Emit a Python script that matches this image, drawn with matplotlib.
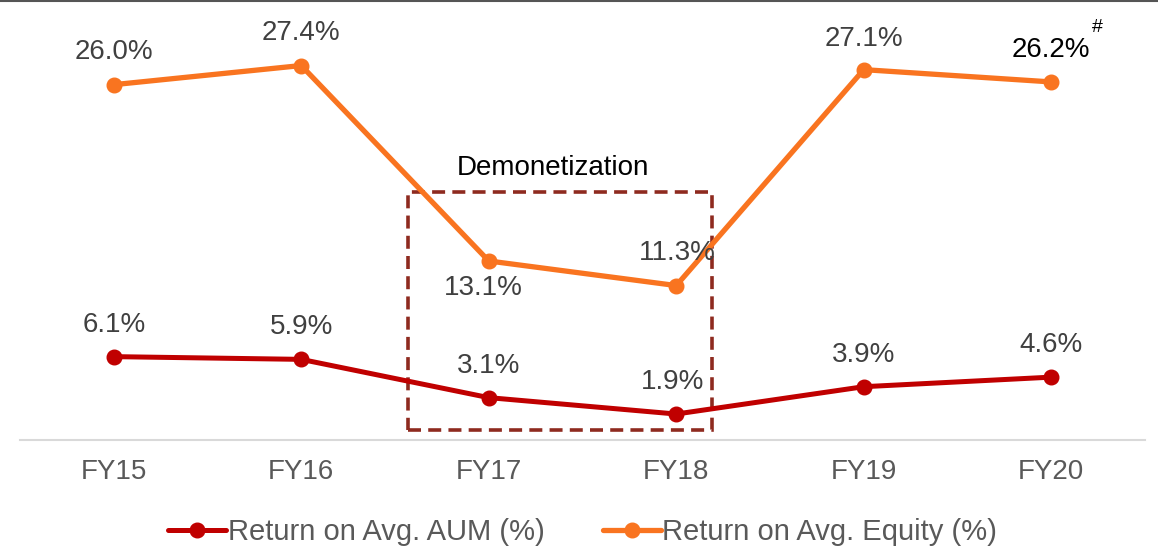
import matplotlib.pyplot as plt
from matplotlib.patches import Rectangle
from matplotlib.lines import Line2D

plt.rcParams["font.family"] = ["Liberation Sans", "DejaVu Sans"]

# ----------------------------------
# Data
# ----------------------------------

years = ["FY15", "FY16", "FY17", "FY18", "FY19", "FY20"]
roa_aum = [6.1, 5.9, 3.1, 1.9, 3.9, 4.6]
roe = [26.0, 27.4, 13.1, 11.3, 27.1, 26.2]

# label offsets in pixels (dx, dy)
aum_offsets = [(0, 32), (0, 32), (0, 32), (-4, 32), (0, 32), (0, 32)]
roe_offsets = [(0, 33), (0, 33), (-5, -27), (1, 33), (0, 31), (0, 32)]

red = "#C00000"
orange = "#F97420"
gray_txt = "#404040"

fig = plt.figure(figsize=(11.58, 5.46), dpi=100)
ax = fig.add_axes([20 / 1158, 1 - 440 / 546, 1125 / 1158, 410 / 546])

x = list(range(len(years)))

ax.plot(x, roa_aum, color=red, lw=3.6, marker="o", ms=10.5,
        label="Return on Avg. AUM (%)", solid_capstyle="round", zorder=3)
ax.plot(x, roe, color=orange, lw=3.8, marker="o", ms=10.5,
        label="Return on Avg. Equity (%)", solid_capstyle="round", zorder=3)

for i, v in enumerate(roa_aum):
    ax.annotate(f"{v:.1f}%", (i, v), xytext=aum_offsets[i],
                textcoords="offset pixels", ha="center", va="center",
                fontsize=20, color=gray_txt)

for i, v in enumerate(roe):
    c = "black" if i == len(roe) - 1 else gray_txt
    ax.annotate(f"{v:.1f}%", (i, v), xytext=roe_offsets[i],
                textcoords="offset pixels", ha="center", va="center",
                fontsize=20, color=c)

# superscript marker on FY20
ax.annotate("#", (5, roe[5]), xytext=(46, 54), textcoords="offset pixels",
            ha="center", va="center", fontsize=14, color="black")

# ----------------------------------
# Demonetization box
# ----------------------------------

box = Rectangle((1.57, 0.73), 1.62, 17.4, fill=False,
                edgecolor="#8E2A1F", lw=2.6, ls=(0, (3.6, 2)), zorder=2)
ax.add_patch(box)
ax.text(2.34, 19.9, "Demonetization", ha="center", va="center",
        fontsize=20, color="black")

# ----------------------------------
# Axes styling
# ----------------------------------

ax.set_xlim(-0.5, 5.5)
ax.set_ylim(0, 30)
ax.set_xticks(x)
ax.set_xticklabels(years, fontsize=20, color="#595959")
ax.tick_params(axis="x", length=0, pad=14)
ax.set_yticks([])
for s in ["top", "right", "left"]:
    ax.spines[s].set_visible(False)
ax.spines["bottom"].set_color("#D9D9D9")
ax.spines["bottom"].set_linewidth(1.5)

leg = ax.legend(loc="center", bbox_to_anchor=(0.5, -0.225), ncol=2,
                frameon=False, fontsize=21, handlelength=2.0,
                handletextpad=0.05, columnspacing=2.0)
for t in leg.get_texts():
    t.set_color("#595959")

# top border line
fig.add_artist(Line2D([0, 1], [0.999, 0.999], color="#555555", lw=1.5,
                      transform=fig.transFigure))

plt.savefig("out.png", dpi=100)
